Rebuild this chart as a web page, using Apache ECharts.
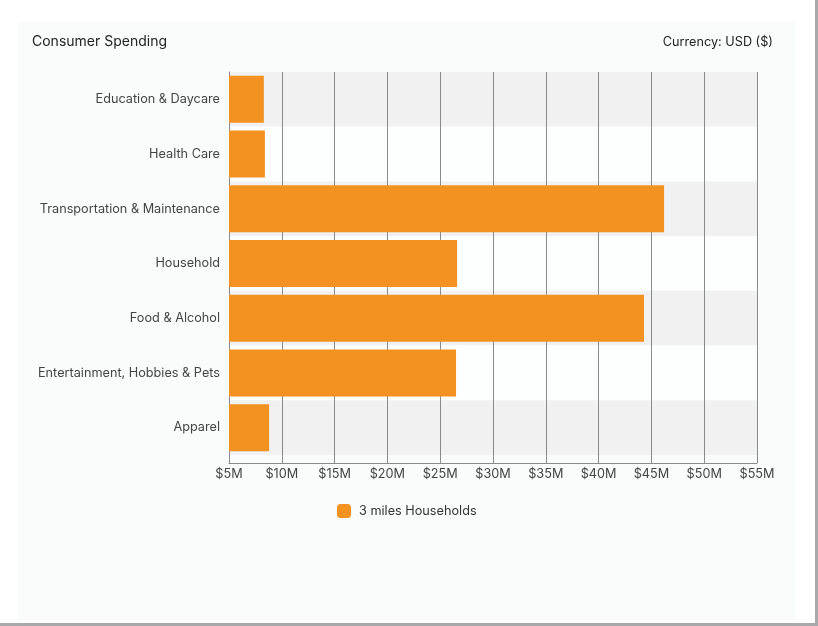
<!DOCTYPE html>
<html>
<head>
<meta charset="utf-8">
<script src="https://cdn.jsdelivr.net/npm/echarts@6/dist/echarts.min.js"></script>
<style>
  html, body { margin: 0; padding: 0; background: #fff; }
  #wrap { position: relative; width: 818px; height: 626px; overflow: hidden; }
  #panel { position: absolute; left: 18px; top: 22px; width: 777px; height: 598px; background: #fafcfc; }
  #edgeR { position: absolute; left: 815px; top: 0; width: 3px; height: 626px; background: #a9a9ab; }
  #edgeB { position: absolute; left: 0; top: 623px; width: 818px; height: 3px; background: #a9a9ab; }
  #chart { position: absolute; left: 0; top: 0; width: 815px; height: 623px; }
</style>
</head>
<body>
<div id="wrap">
  <div id="panel"></div>
  <div id="edgeR"></div>
  <div id="edgeB"></div>
  <div id="chart"></div>
</div>
<script>
// categories, top to bottom
const categories = [
  'Education & Daycare',
  'Health Care',
  'Transportation & Maintenance',
  'Household',
  'Food & Alcohol',
  'Entertainment, Hobbies & Pets',
  'Apparel'
]
// values in $M
const households3mi = [8.3, 8.4, 46.2, 26.6, 44.3, 26.5, 8.8]
const seriesName = '3 miles Households'
const xMin = 5
const xMax = 55
const xStep = 5

const font = 'Inter, "Noto Sans", sans-serif'
const chart = echarts.init(document.getElementById('chart'), null, { renderer: 'canvas' })

chart.setOption({
  backgroundColor: 'transparent',
  animation: false,
  textStyle: { fontFamily: font },
  title: [{
    text: 'Consumer Spending',
    left: 27,
    top: 30,
    textStyle: { fontFamily: font, fontSize: 14, fontWeight: 'normal', color: '#222' }
  }, {
    text: 'Currency: USD ($)',
    right: 37,
    top: 31,
    textStyle: { fontFamily: font, fontSize: 12.7, fontWeight: 'normal', color: '#222' }
  }],
  legend: {
    data: [seriesName],
    left: 332,
    top: 499,
    itemWidth: 14,
    itemHeight: 14,
    itemGap: 8,
    icon: 'roundRect',
    textStyle: { fontFamily: font, fontSize: 12.7, color: '#333', padding: [0, 0, 0, 3] }
  },
  grid: [
    { left: 229, top: 72, width: 528, height: 383 },
    // thin strip under the bands so the grid lines run down to the axis
    { left: 229, top: 455, width: 528, height: 8 }
  ],
  xAxis: [{
    gridIndex: 0,
    type: 'value',
    min: xMin,
    max: xMax,
    interval: xStep,
    axisLine: { show: false },
    axisTick: { show: false },
    axisLabel: { show: false },
    splitLine: { show: true, lineStyle: { color: '#8a8a8a', width: 1 } }
  }, {
    gridIndex: 1,
    type: 'value',
    min: xMin,
    max: xMax,
    interval: xStep,
    axisLine: { show: true, lineStyle: { color: '#8a8a8a', width: 1 } },
    axisTick: { show: false },
    axisLabel: {
      color: '#444',
      fontSize: 12.7,
      fontFamily: font,
      margin: 5,
      formatter: v => '$' + v + 'M'
    },
    splitLine: { show: true, lineStyle: { color: '#8a8a8a', width: 1 } }
  }],
  yAxis: [{
    gridIndex: 0,
    type: 'category',
    data: categories,
    inverse: true,
    axisLine: { show: true, lineStyle: { color: '#8a8a8a', width: 1 } },
    axisTick: { show: false },
    axisLabel: { color: '#444', fontSize: 12.7, fontFamily: font, margin: 9, padding: [5, 0, 0, 0] },
    splitLine: { show: false },
    splitArea: { show: true, areaStyle: { color: ['#f1f1f1', '#fdfefe'] } }
  }, {
    gridIndex: 1,
    type: 'category',
    data: [''],
    axisLine: { show: true, lineStyle: { color: '#8a8a8a', width: 1 } },
    axisTick: { show: false },
    axisLabel: { show: false }
  }],
  series: [{
    name: seriesName,
    type: 'bar',
    xAxisIndex: 0,
    yAxisIndex: 0,
    data: households3mi,
    barWidth: 47,
    itemStyle: { color: '#f39121' }
  }]
})
</script>
</body>
</html>
